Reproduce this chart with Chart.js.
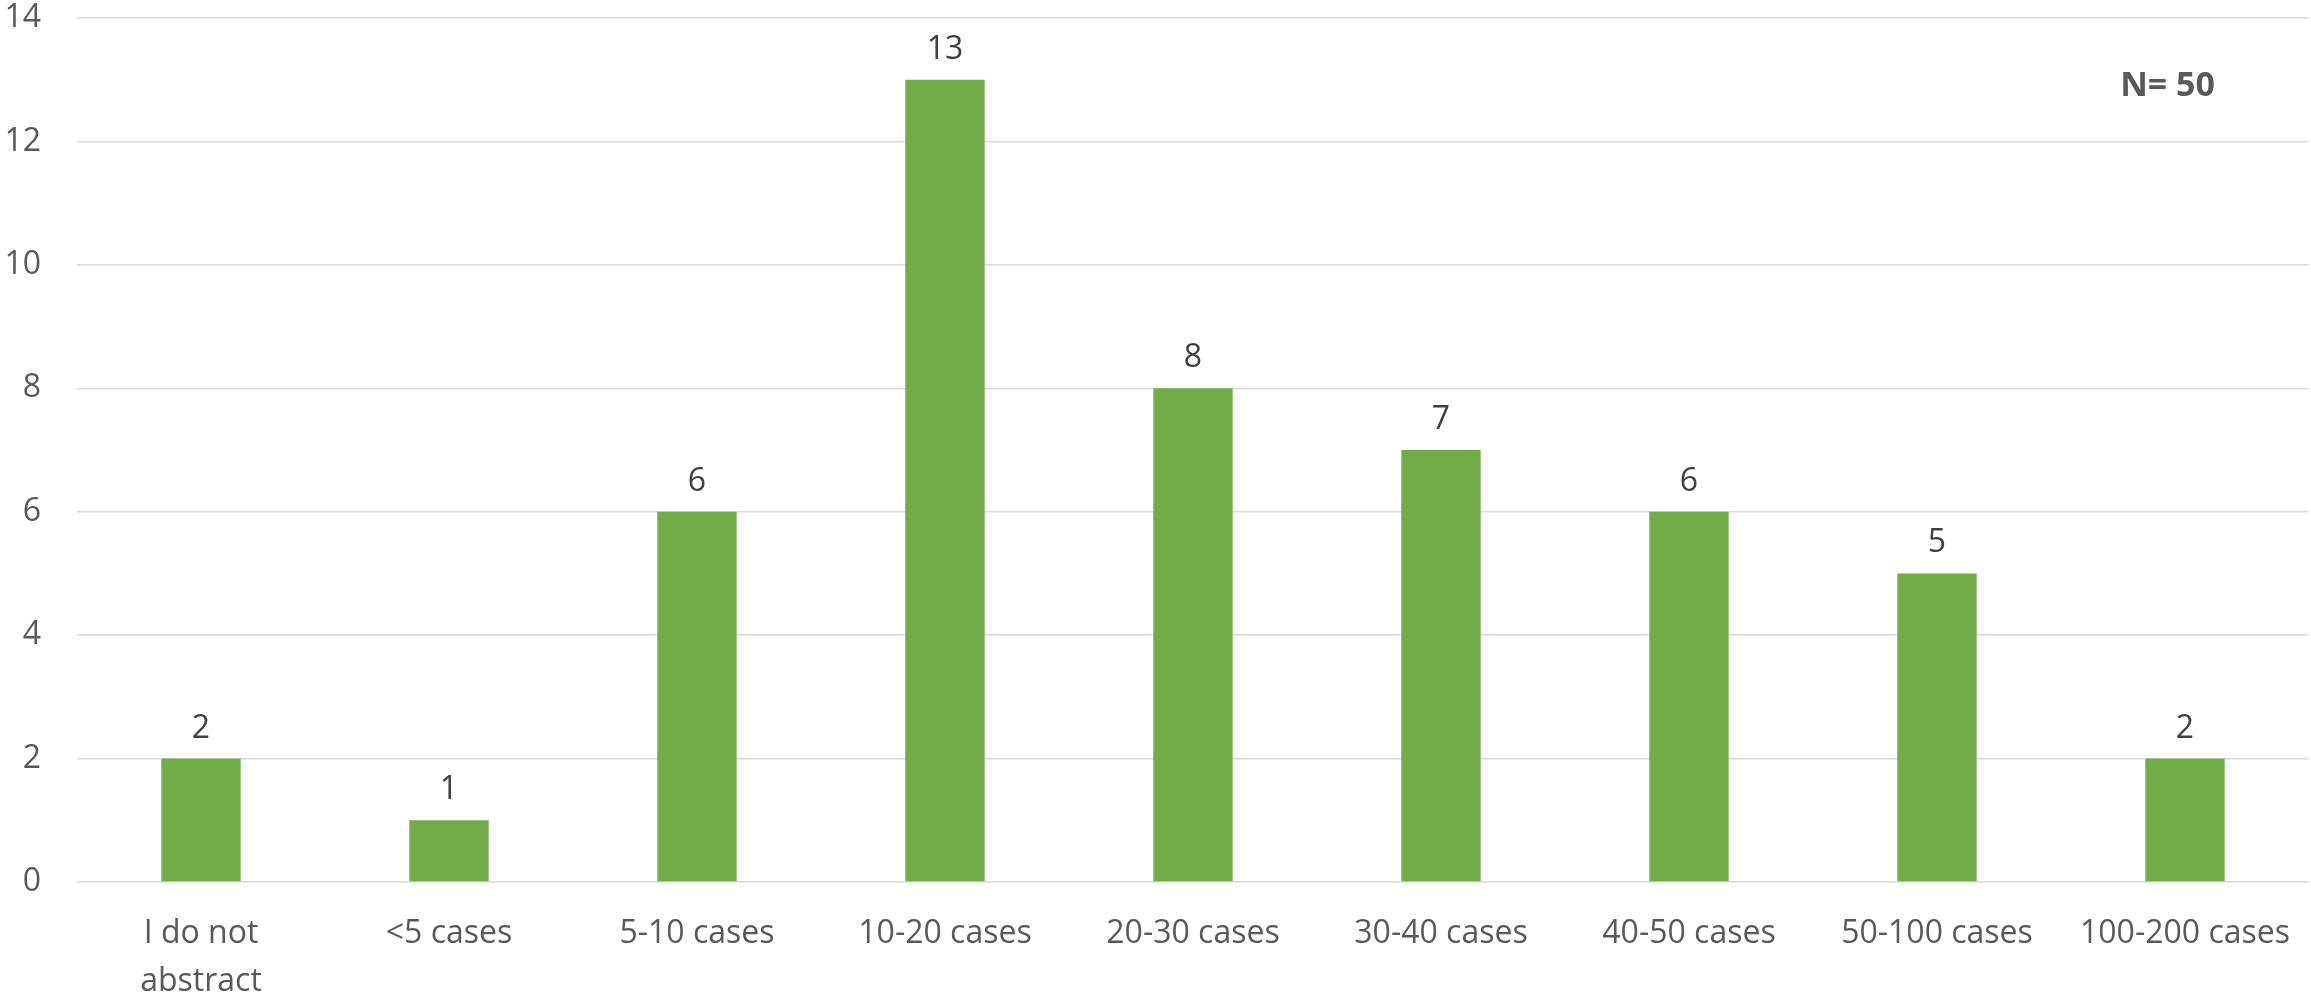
<!DOCTYPE html>
<html lang="en">
<head>
    <meta charset="UTF-8">
    <title>Abstracted cases</title>
    <script src="https://cdn.jsdelivr.net/npm/chart.js@4.4.1/dist/chart.umd.min.js"></script>
    <style>
        html, body { margin: 0; padding: 0; background: #ffffff; }
        canvas { display: block; }
    </style>
</head>
<body>
    <canvas id="casesChart" width="2311" height="994"></canvas>

    <script>
        // data
        const categories = [['I do not', 'abstract'], '<5 cases', '5-10 cases', '10-20 cases',
            '20-30 cases', '30-40 cases', '40-50 cases', '50-100 cases', '100-200 cases'];
        const counts = [2, 1, 6, 13, 8, 7, 6, 5, 2];
        const yTicks = [0, 2, 4, 6, 8, 10, 12, 14];
        const sampleNote = 'N= 50';

        const FONT = '"Open Sans", "Liberation Sans", sans-serif';

        // value labels above the bars + the N note
        const labelsPlugin = {
            id: 'barLabels',
            afterDatasetsDraw(chart) {
                const ctx = chart.ctx;
                const meta = chart.getDatasetMeta(0);
                ctx.save();
                ctx.fillStyle = '#404040';
                ctx.font = '32px ' + FONT;
                ctx.textAlign = 'center';
                ctx.textBaseline = 'alphabetic';
                meta.data.forEach((bar, i) => {
                    ctx.fillText(String(counts[i]), bar.x, bar.y - 21);
                });

                const area = chart.chartArea;
                ctx.fillStyle = '#595959';
                ctx.font = 'bold 34px ' + FONT;
                ctx.textAlign = 'right';
                ctx.fillText(sampleNote, area.right - 94, area.top + 78);
                ctx.restore();
            }
        };

        new Chart(document.getElementById('casesChart'), {
            type: 'bar',
            data: {
                labels: categories,
                datasets: [{
                    data: counts,
                    backgroundColor: '#70ad47',
                    borderWidth: 0,
                    barPercentage: 0.32,
                    categoryPercentage: 1.0
                }]
            },
            options: {
                responsive: false,
                animation: false,
                devicePixelRatio: 1,
                layout: {
                    padding: { top: 18, right: 2, left: 0, bottom: 0 }
                },
                plugins: {
                    legend: { display: false },
                    tooltip: { enabled: false }
                },
                scales: {
                    x: {
                        grid: { display: false, drawTicks: false },
                        border: { display: false },
                        ticks: {
                            color: '#595959',
                            font: { family: FONT, size: 32, lineHeight: 1.5 },
                            padding: 28,
                            maxRotation: 0,
                            autoSkip: false
                        },
                        afterFit(scale) {
                            scale.height = 112;
                            scale.paddingLeft = 0;
                            scale.paddingRight = 0;
                        }
                    },
                    y: {
                        min: 0,
                        max: 14,
                        afterBuildTicks(scale) {
                            scale.ticks = yTicks.map(v => ({ value: v }));
                        },
                        grid: { color: '#d9d9d9', lineWidth: 1.5, drawTicks: false },
                        border: { display: false },
                        ticks: {
                            color: '#595959',
                            font: { family: FONT, size: 32 },
                            padding: 36
                        },
                        afterFit(scale) {
                            scale.width = 77;
                            scale.paddingTop = 0;
                            scale.paddingBottom = 0;
                        }
                    }
                }
            },
            plugins: [labelsPlugin]
        });
    </script>
</body>
</html>
